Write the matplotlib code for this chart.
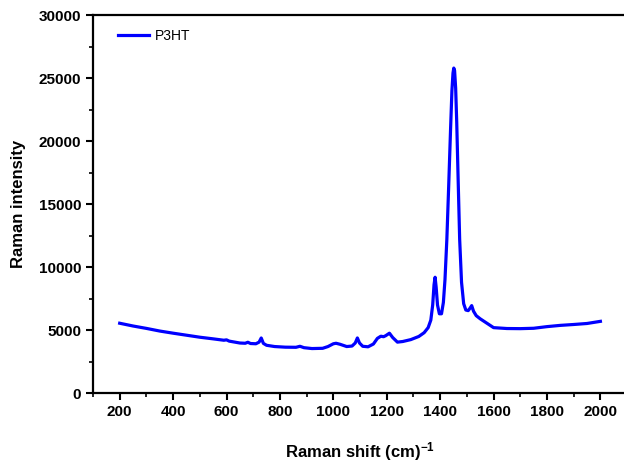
import matplotlib
matplotlib.use("Agg")
import matplotlib.pyplot as plt
from matplotlib.ticker import MultipleLocator

plt.rcParams["font.family"] = ["Liberation Sans", "DejaVu Sans"]
plt.rcParams["mathtext.fontset"] = "custom"
plt.rcParams["mathtext.rm"] = "Liberation Sans:bold"
plt.rcParams["mathtext.default"] = "rm"

# Raman spectrum of P3HT
shift = [200, 250, 300, 350, 400, 450, 500, 550, 590, 600, 610, 650, 670, 680, 690,
         710, 722, 730, 738, 750, 780, 820, 860, 875, 890, 920, 960, 980, 1000, 1010,
         1025, 1050, 1070, 1082, 1090, 1098, 1110, 1130, 1150, 1165, 1178, 1188, 1196,
         1210, 1222, 1240, 1260, 1290, 1320, 1340, 1355, 1365, 1372, 1377, 1381, 1385,
         1390, 1397, 1405, 1412, 1418, 1425, 1432, 1439, 1444, 1448, 1451, 1454, 1458,
         1462, 1467, 1473, 1480, 1488, 1496, 1505, 1512, 1518, 1525, 1535, 1550, 1575,
         1600, 1650, 1700, 1750, 1800, 1850, 1900, 1950, 2000]
intensity = [5550, 5330, 5140, 4930, 4760, 4600, 4440, 4310, 4200, 4230, 4130, 3980, 3960,
             4040, 3940, 3920, 4050, 4380, 3950, 3800, 3700, 3650, 3640, 3720, 3610, 3540,
             3560, 3700, 3920, 3960, 3880, 3700, 3740, 3980, 4380, 3980, 3720, 3680, 3900,
             4350, 4520, 4480, 4560, 4760, 4420, 4050, 4100, 4250, 4500, 4800, 5200, 5800,
             7000, 8600, 9200, 8400, 7000, 6300, 6300, 7200, 9000, 12200, 16500, 21000,
             24000, 25400, 25800, 25600, 24200, 21500, 17200, 12200, 8800, 7100, 6600,
             6550, 6750, 6950, 6500, 6150, 5900, 5550, 5200, 5130, 5120, 5150, 5280, 5380,
             5450, 5530, 5700]

fig = plt.figure(figsize=(6.24, 4.62), dpi=100)
ax = fig.add_axes([0.149, 0.149, 0.856, 0.8182])

ax.plot(shift, intensity, color="#0000ff", lw=2.3, label="P3HT")

ax.set_xlim(100, 2100)
ax.set_ylim(0, 30000)
ax.xaxis.set_major_locator(MultipleLocator(200))
ax.xaxis.set_minor_locator(MultipleLocator(100))
ax.yaxis.set_major_locator(MultipleLocator(5000))
ax.yaxis.set_minor_locator(MultipleLocator(2500))

for s in ax.spines.values():
    s.set_linewidth(1.6)
ax.tick_params(which="major", direction="out", length=5, width=1.5, labelsize=11)
ax.tick_params(which="minor", direction="out", length=3, width=1.2)
for lab in ax.get_xticklabels() + ax.get_yticklabels():
    lab.set_fontweight("bold")

ax.set_xlabel(r"Raman shift (cm)$^{-1}$", fontsize=12, fontweight="bold", labelpad=15)
ax.set_ylabel("Raman intensity", fontsize=12, fontweight="bold", labelpad=9)

ax.legend(loc="upper left", frameon=False, fontsize=10, handlelength=2.3,
          handletextpad=0.4, borderaxespad=0.6, bbox_to_anchor=(0.02, 1.0))

fig.savefig("out.png", dpi=100)
